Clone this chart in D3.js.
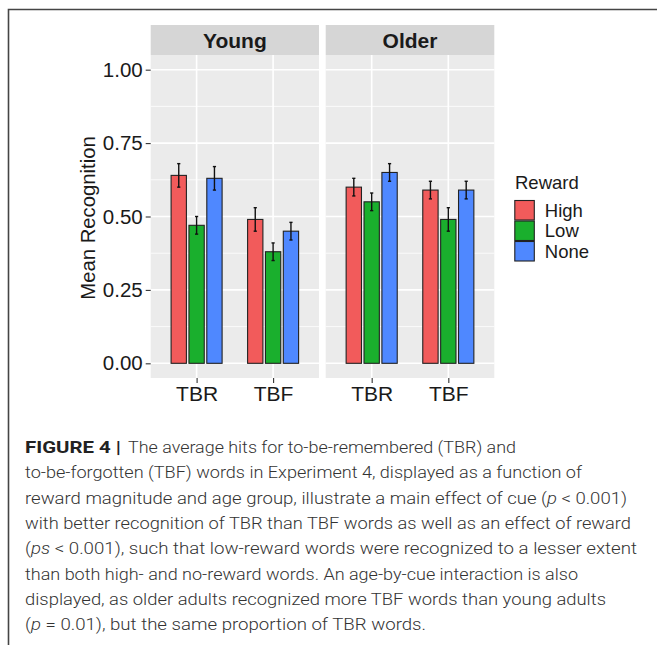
<!DOCTYPE html>
<html>
<head>
<meta charset="utf-8">
<script src="https://cdn.jsdelivr.net/npm/d3@7"></script>
<style>
  html, body { margin: 0; padding: 0; background: #fff; }
  svg { display: block; }
</style>
</head>
<body>
<svg id="fig" width="657" height="645"></svg>
<script>
// Facets, cues and reward levels
const panels = ["Young", "Older"];
const cues = ["TBR", "TBF"];
const rewards = ["High", "Low", "None"];
const rewardColors = ["#F25B5B", "#1AAF2D", "#4F88FF"];

// Mean recognition per cue (rows) and reward level (columns), with error bar half-widths
const youngMean = [[0.64, 0.47, 0.63], [0.49, 0.38, 0.45]];
const youngErr  = [[0.04, 0.03, 0.04], [0.04, 0.03, 0.03]];
const olderMean = [[0.60, 0.55, 0.65], [0.59, 0.49, 0.59]];
const olderErr  = [[0.03, 0.03, 0.03], [0.03, 0.04, 0.03]];

const yTicks = [0, 0.25, 0.50, 0.75, 1.00];
const yMinor = [0.125, 0.375, 0.625, 0.875];

const captionLines = [
  { bold: "FIGURE 4 |", parts: [["The average hits for to-be-remembered (TBR) and", false]], w: 388 },
  { parts: [["to-be-forgotten (TBF) words in Experiment 4, displayed as a function of", false]], w: 557 },
  { parts: [["reward magnitude and age group, illustrate a main effect of cue (", false], ["p", true], [" < 0.001)", false]], w: 602 },
  { parts: [["with better recognition of TBR than TBF words as well as an effect of reward", false]], w: 606 },
  { parts: [["(", false], ["ps", true], [" < 0.001), such that low-reward words were recognized to a lesser extent", false]], w: 612 },
  { parts: [["than both high- and no-reward words. An age-by-cue interaction is also", false]], w: 553 },
  { parts: [["displayed, as older adults recognized more TBF words than young adults", false]], w: 581 },
  { parts: [["(", false], ["p", true], [" = 0.01), but the same proportion of TBR words.", false]], w: 401 }
];

const svg = d3.select("#fig");
const chartFont = "'Liberation Sans', Arial, sans-serif";

// Figure frame (top and left rules)
svg.append("path")
  .attr("d", "M8.5,645 L8.5,9.5 L657,9.5")
  .attr("fill", "none").attr("stroke", "#454545").attr("stroke-width", 1.6);

// Layout
const panelTop = 55, panelBottom = 378, stripTop = 25;
const panelX = [[150.7, 319], [325.7, 494.3]];

const y = d3.scaleLinear().domain([-0.05, 1.05]).range([panelBottom, panelTop]);

const dodge = 0.7 / 3, barW = 0.2;

panels.forEach((name, p) => {
  const [x0, x1] = panelX[p];
  const means = p === 0 ? youngMean : olderMean;
  const errs = p === 0 ? youngErr : olderErr;
  const x = d3.scaleLinear().domain([0.4, 2.6]).range([x0, x1]);
  const g = svg.append("g");

  // panel background
  g.append("rect").attr("x", x0).attr("y", panelTop)
    .attr("width", x1 - x0).attr("height", panelBottom - panelTop).attr("fill", "#EBEBEB");

  // grid
  g.selectAll(".minor").data(yMinor).join("line")
    .attr("x1", x0).attr("x2", x1).attr("y1", d => y(d)).attr("y2", d => y(d))
    .attr("stroke", "#fff").attr("stroke-width", 0.8);
  g.selectAll(".major").data(yTicks).join("line")
    .attr("x1", x0).attr("x2", x1).attr("y1", d => y(d)).attr("y2", d => y(d))
    .attr("stroke", "#fff").attr("stroke-width", 1.6);
  g.selectAll(".vmajor").data(cues).join("line")
    .attr("x1", (d, i) => x(i + 1)).attr("x2", (d, i) => x(i + 1))
    .attr("y1", panelTop).attr("y2", panelBottom)
    .attr("stroke", "#fff").attr("stroke-width", 1.6);

  // strip
  g.append("rect").attr("x", x0).attr("y", stripTop)
    .attr("width", x1 - x0).attr("height", panelTop - stripTop).attr("fill", "#D6D6D6");
  g.append("text").attr("x", (x0 + x1) / 2).attr("y", 47.5)
    .attr("text-anchor", "middle").attr("font-family", chartFont)
    .attr("font-weight", "bold").attr("font-size", 21).attr("fill", "#1a1a1a").text(name);

  // bars and error bars
  const rows = [];
  cues.forEach((c, ci) => rewards.forEach((r, ri) => {
    rows.push({ ci, ri, v: means[ci][ri], e: errs[ci][ri], cx: ci + 1 + (ri - 1) * dodge });
  }));

  g.selectAll(".bar").data(rows).join("rect")
    .attr("x", d => x(d.cx - barW / 2)).attr("width", d => x(d.cx + barW / 2) - x(d.cx - barW / 2))
    .attr("y", d => y(d.v)).attr("height", d => y(0) - y(d.v))
    .attr("fill", d => rewardColors[d.ri]).attr("stroke", "#222").attr("stroke-width", 1.1);

  const eb = g.selectAll(".err").data(rows).join("g");
  eb.append("line")
    .attr("x1", d => x(d.cx)).attr("x2", d => x(d.cx))
    .attr("y1", d => y(d.v + d.e)).attr("y2", d => y(d.v - d.e))
    .attr("stroke", "#111").attr("stroke-width", 1.4);
  eb.selectAll("line.cap").data(d => [d.v + d.e, d.v - d.e].map(v => ({ v, cx: d.cx })))
    .join("line").attr("class", "cap")
    .attr("x1", d => x(d.cx) - 1.6).attr("x2", d => x(d.cx) + 1.6)
    .attr("y1", d => y(d.v)).attr("y2", d => y(d.v))
    .attr("stroke", "#111").attr("stroke-width", 1.4);

  // x axis
  const xp = d3.scalePoint().domain(cues).range([x(1), x(2)]);
  const xa = svg.append("g").attr("transform", `translate(0,${panelBottom})`)
    .call(d3.axisBottom(xp).tickSize(5).tickPadding(3));
  xa.select(".domain").remove();
  xa.selectAll(".tick line").attr("stroke", "#333").attr("stroke-width", 1.1);
  xa.selectAll(".tick text").attr("font-family", chartFont).attr("font-size", 21).attr("fill", "#1a1a1a");
});

// y axis on the left panel
const ya = svg.append("g").attr("transform", `translate(${panelX[0][0]},0)`)
  .call(d3.axisLeft(y).tickValues(yTicks).tickFormat(d3.format(".2f")).tickSize(5).tickPadding(3));
ya.select(".domain").remove();
ya.selectAll(".tick line").attr("stroke", "#333").attr("stroke-width", 1.1);
ya.selectAll(".tick text").attr("font-family", chartFont).attr("font-size", 20.5).attr("fill", "#1a1a1a");

svg.append("text").attr("transform", "translate(95,218) rotate(-90)")
  .attr("text-anchor", "middle").attr("font-family", chartFont).attr("font-size", 20.3)
  .attr("fill", "#1a1a1a").text("Mean Recognition");

// legend
const lg = svg.append("g").attr("transform", "translate(514.3,0)");
lg.append("text").attr("x", 0.7).attr("y", 188.5).attr("font-family", chartFont)
  .attr("font-size", 18.5).attr("fill", "#1a1a1a").text("Reward");
const keyH = 20.5;
lg.selectAll(".key").data(rewards).join("rect")
  .attr("x", 0.5).attr("y", (d, i) => 200 + i * keyH + 0.5)
  .attr("width", 19.5).attr("height", keyH - 1)
  .attr("fill", (d, i) => rewardColors[i]).attr("stroke", "#222").attr("stroke-width", 1.1);
lg.selectAll(".lab").data(rewards).join("text")
  .attr("x", 30.5).attr("y", (d, i) => 200 + i * keyH + keyH / 2 + 6.5)
  .attr("font-family", chartFont).attr("font-size", 18.5).attr("fill", "#1a1a1a").text(d => d);

// caption
const capFont = "Roboto, 'Liberation Sans', sans-serif";
const cap = svg.append("g").attr("fill", "#333");
captionLines.forEach((line, i) => {
  const base = 453 + i * 25.3;
  let startX = 25;
  if (line.bold) {
    cap.append("text").attr("x", 25).attr("y", base)
      .attr("font-family", capFont).attr("font-weight", "bold").attr("font-size", 16.5)
      .attr("fill", "#222")
      .attr("textLength", 96).attr("lengthAdjust", "spacingAndGlyphs").text(line.bold);
    startX = 128;
  }
  const t = cap.append("text").attr("x", startX).attr("y", base)
    .attr("font-family", capFont).attr("font-weight", 300).attr("font-size", 16.5)
    .attr("textLength", line.w).attr("lengthAdjust", "spacingAndGlyphs");
  line.parts.forEach(([s, it]) => {
    t.append("tspan").attr("font-style", it ? "italic" : "normal").text(s);
  });
});
</script>
</body>
</html>
